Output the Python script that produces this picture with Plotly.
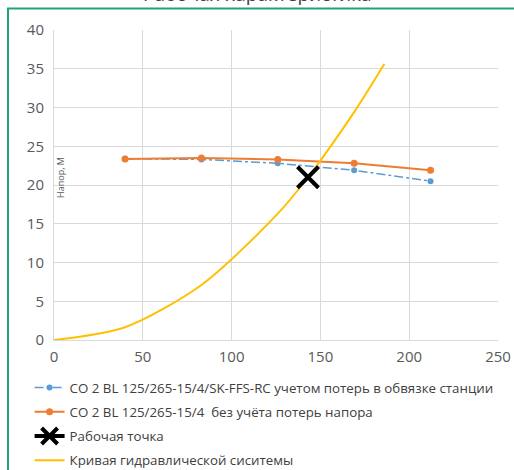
import plotly.graph_objects as go

# Data
flow_pts = [40, 83, 126, 169, 212]
head_station = [23.4, 23.3, 22.8, 21.9, 20.5]
head_pump = [23.35, 23.5, 23.3, 22.8, 21.9]
work_q = [143]
work_h = [21.0]
sys_q = [0, 40, 83, 126, 143, 169, 186]
sys_h = [0, 1.65, 7.1, 16.3, 21.0, 29.4, 35.6]

names = [
    "СО 2 BL 125/265-15/4/SK-FFS-RC учетом потерь в обвязке станции",
    "СО 2 BL 125/265-15/4  без учёта потерь напора",
    "Рабочая точка",
    "Кривая гидравлической сиситемы",
]

fig = go.Figure()
fig.add_trace(go.Scatter(x=flow_pts, y=head_station, name=names[0], mode="lines+markers",
                         line=dict(color="#5b9bd5", width=1.5, dash="dashdot"),
                         marker=dict(color="#5b9bd5", size=6), legendgroup="a", legendrank=1))
fig.add_trace(go.Scatter(x=flow_pts, y=head_pump, name=names[1], mode="lines+markers",
                         line=dict(color="#ed7d31", width=2),
                         marker=dict(color="#ed7d31", size=7), legendgroup="b", legendrank=2))
fig.add_trace(go.Scatter(x=sys_q, y=sys_h, name=names[3], mode="lines",
                         line=dict(color="#ffc000", width=2, shape="spline", smoothing=0.8),
                         legendgroup="d", legendrank=4))
fig.add_trace(go.Scatter(x=work_q, y=work_h, name=names[2], mode="lines+markers",
                         line=dict(color="black", width=4),
                         marker=dict(symbol="x-thin", size=21, line=dict(color="black", width=4), color="black"),
                         legendgroup="c", legendrank=3))

grid = "#d9d9d9"
tick_font = dict(family="Open Sans", size=15, color="#595959")

fig.update_layout(
    width=514, height=470,
    margin=dict(l=54, r=16, t=30, b=130, autoexpand=False),
    paper_bgcolor="white", plot_bgcolor="white",
    showlegend=True,
    legend=dict(x=-0.055, y=-0.104, xanchor="left", yanchor="top",
                font=dict(family="Open Sans", size=13.3, color="#404040"),
                traceorder="grouped", tracegroupgap=4, bgcolor="rgba(0,0,0,0)"),
    xaxis=dict(range=[0, 250], dtick=50, showgrid=True, gridcolor=grid, gridwidth=1,
               showline=True, linecolor=grid, linewidth=1, zeroline=False,
               tickfont=tick_font, ticks="", mirror=False, ticklabelstandoff=3),
    yaxis=dict(range=[0, 40], dtick=5, showgrid=True, gridcolor=grid, gridwidth=1,
               showline=True, linecolor=grid, linewidth=1, zeroline=False,
               tickfont=tick_font, ticks="", ticklabelstandoff=6),
)

# Outer chart border (green)
fig.add_shape(type="rect", xref="paper", yref="paper",
              x0=(8 - 54) / 444, x1=(530 - 54) / 444,
              y0=(340 - 490) / 310, y1=(340 - 8.5) / 310,
              line=dict(color="#22a17f", width=2), fillcolor="rgba(0,0,0,0)", layer="below")

# Title (partially cut)
fig.add_annotation(text="Рабочая характеристика", xref="paper", yref="paper",
                   x=(257 - 54) / 444, y=(340 + 6) / 310, xanchor="center", yanchor="middle",
                   showarrow=False, font=dict(family="Open Sans", size=19, color="#404040"))

# Y axis title inside plot
fig.add_annotation(text="Напор, М", xref="paper", yref="paper",
                   x=(60 - 54) / 444, y=(340 - 178) / 310, xanchor="center", yanchor="middle",
                   textangle=-90, showarrow=False,
                   font=dict(family="Open Sans", size=9, color="#595959"))

fig.write_html("out.html")
